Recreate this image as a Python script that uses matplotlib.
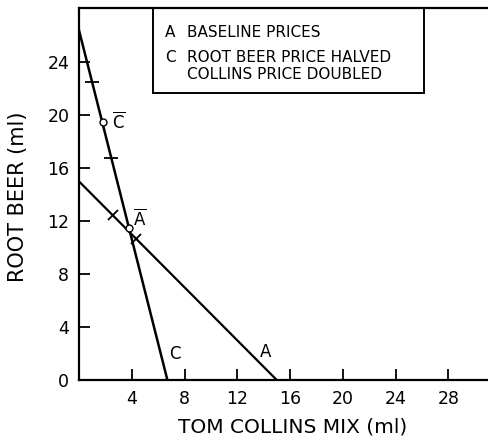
import matplotlib
matplotlib.use("Agg")
import matplotlib.pyplot as plt
from matplotlib.patches import Rectangle
from matplotlib.markers import MarkerStyle
from matplotlib.transforms import Affine2D

# budget lines (tom collins ml, root beer ml)
line_a_x = [0, 15]
line_a_y = [15, 0]
line_c_x = [0, 6.7]
line_c_y = [26.4, 0]

# chosen points
a_bar = (3.75, 11.5)
c_bar = (1.8, 19.5)

# hatch marks on the lines
hatch_a_x = [2.55, 4.35]
hatch_a_y = [12.45, 10.65]
hatch_c_x = [1.0, 2.45]
hatch_c_y = [22.5, 16.8]

xticks = [4, 8, 12, 16, 20, 24, 28]
yticks = [0, 4, 8, 12, 16, 20, 24]

plt.rcParams['mathtext.default'] = 'regular'

fig = plt.figure(figsize=(4.88, 4.40), dpi=100)
ax = fig.add_axes([0.162, 0.136, 0.838, 0.846])

ax.plot(line_a_x, line_a_y, color='black', lw=1.6)
ax.plot(line_c_x, line_c_y, color='black', lw=1.8)

ax.plot(*a_bar, marker='o', ms=5, mfc='white', mec='black', mew=1.0)
ax.plot(*c_bar, marker='o', ms=5, mfc='white', mec='black', mew=1.0)

diag = MarkerStyle('_', transform=Affine2D().rotate_deg(45))
ax.plot(hatch_a_x, hatch_a_y, ls='none', marker=diag, ms=11, mec='black', mew=1.3)
ax.plot(hatch_c_x, hatch_c_y, ls='none', marker='_', ms=10, mec='black', mew=1.3)

ax.text(6.85, 2.0, 'C', fontsize=12, ha='left', va='center')
ax.text(13.7, 2.1, 'A', fontsize=12, ha='left', va='center')
ax.text(4.1, 12.2, r'$\overline{A}$', fontsize=12, ha='left', va='center')
ax.text(2.5, 19.5, r'$\overline{C}$', fontsize=12, ha='left', va='center')

ax.set_xlim(0, 31)
ax.set_ylim(0, 28.1)
ax.set_xticks(xticks)
ax.set_yticks(yticks)
ax.tick_params(direction='in', length=8, width=1.3, labelsize=12.5, pad=7)

for s in ['left', 'bottom', 'top']:
    ax.spines[s].set_linewidth(1.6)
ax.spines['right'].set_visible(False)

ax.set_xlabel('TOM COLLINS MIX (ml)', fontsize=14.5)
ax.set_ylabel('ROOT BEER (ml)', fontsize=15)
ax.xaxis.set_label_coords(0.522, -0.1)
ax.yaxis.set_label_coords(-0.125, 0.493)

# legend box
ax.add_patch(Rectangle((0.181, 0.772), 0.662, 0.228, transform=ax.transAxes,
                       fill=False, ec='black', lw=1.4, clip_on=False))
ax.text(0.211, 0.935, 'A', transform=ax.transAxes, fontsize=11, va='center')
ax.text(0.263, 0.935, 'BASELINE PRICES', transform=ax.transAxes, fontsize=11, va='center')
ax.text(0.211, 0.868, 'C', transform=ax.transAxes, fontsize=11, va='center')
ax.text(0.263, 0.868, 'ROOT BEER PRICE HALVED', transform=ax.transAxes, fontsize=11, va='center')
ax.text(0.263, 0.820, 'COLLINS PRICE DOUBLED', transform=ax.transAxes, fontsize=11, va='center')

fig.savefig('out.png', dpi=100)
